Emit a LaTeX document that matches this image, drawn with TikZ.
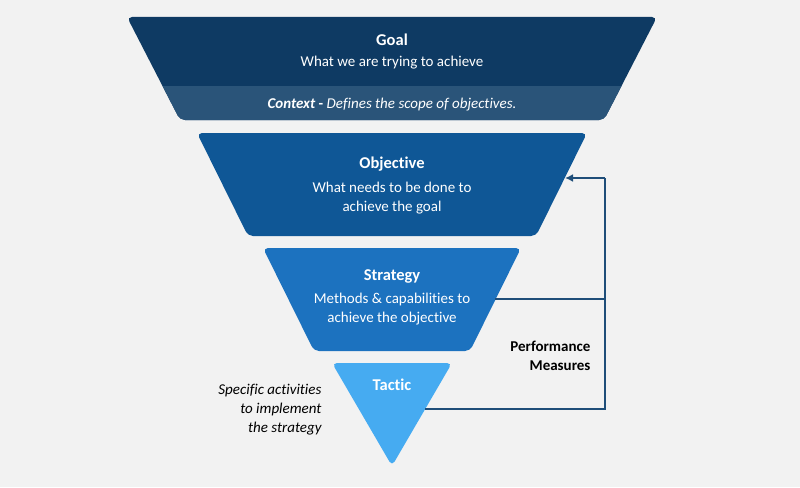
\documentclass[tikz,border=0pt]{standalone}
\usepackage{fontspec}
\setmainfont{Carlito}[Ligatures=NoCommon]
\usetikzlibrary{arrows.meta}
\definecolor{bgray}{HTML}{F2F2F2}
\definecolor{goalblue}{HTML}{0E3A63}
\definecolor{ctxblue}{HTML}{2A5479}
\definecolor{objblue}{HTML}{0F5796}
\definecolor{strblue}{HTML}{1C72BF}
\definecolor{tacblue}{HTML}{46ABF1}
\definecolor{lineblue}{HTML}{1F4E79}
\tikzset{
  title/.style={text=white, font=\bfseries\fontsize{16.5}{19}\selectfont},
  desc/.style={text=white, align=center, font=\fontsize{15}{19.5}\selectfont},
  note/.style={text=black, font=\itshape\fontsize{15}{19}\selectfont}
}

\begin{document}
\begin{tikzpicture}[x=1pt, y=-1pt]
		%%%%% START %%%%%
		
		\fill[bgray] (0, 0) rectangle (800, 487);
		
		% goal with context band
		\fill[goalblue, rounded corners=5pt] (127, 17) -- (657, 17) -- (604, 120) -- (180, 120) -- cycle;
		\begin{scope}
			\clip (0, 86) rectangle (800, 130);
			\fill[ctxblue, rounded corners=5pt] (127, 17) -- (657, 17) -- (604, 120) -- (180, 120) -- cycle;
		\end{scope}
		
		\fill[objblue, rounded corners=5pt] (197, 133) -- (587, 133) -- (536, 236) -- (248, 236) -- cycle;
		\fill[strblue, rounded corners=5pt] (263, 248) -- (521, 248) -- (470, 351) -- (314, 351) -- cycle;
		\fill[tacblue, rounded corners=5pt] (332, 363) -- (452, 363) -- (392, 466) -- cycle;
		
		\node[title] (goal) at (392, 40) {Goal};
		\node[desc] (goal-d) at (392, 63) {What we are trying to achieve};
		\node[desc] (ctx) at (392, 105) {\textbf{\textit{Context}} \textbf{-} \textit{Defines the scope of objectives.}};
		
		\node[title] (obj) at (392, 164) {Objective};
		\node[desc] (obj-d) at (392, 198) {What needs to be done to\\achieve the goal};
		
		\node[title] (str) at (392, 276) {Strategy};
		\node[desc] (str-d) at (392, 309) {Methods \& capabilities to\\achieve the objective};
		
		\node[title] (tac) at (392, 385) {Tactic};
		
		\node[note, align=right, anchor=east] (tac-note) at (325, 410) {Specific activities\\to implement\\the strategy};
		\node[align=right, anchor=east, font=\bfseries\fontsize{15}{19}\selectfont] (perf) at (594, 356) {Performance\\Measures};
		
		% feedback loop
		\coordinate (obj-r) at (565, 178);
		\coordinate (str-r) at (495, 299);
		\coordinate (tac-r) at (425, 409);
		\coordinate (loop-t) at (605, 178);
		\coordinate (loop-m) at (605, 299);
		\coordinate (loop-b) at (605, 409);
		
		\draw[line width=1.8pt, lineblue] (tac-r) -- (loop-b) -- (loop-t);
		\draw[line width=1.8pt, lineblue, -{Latex[length=8pt, width=8pt]}] (loop-t) -- (obj-r);
		\draw[line width=1.8pt, lineblue] (str-r) -- (loop-m);
		
		%%%%% END %%%%%
	\end{tikzpicture}
\end{document}
